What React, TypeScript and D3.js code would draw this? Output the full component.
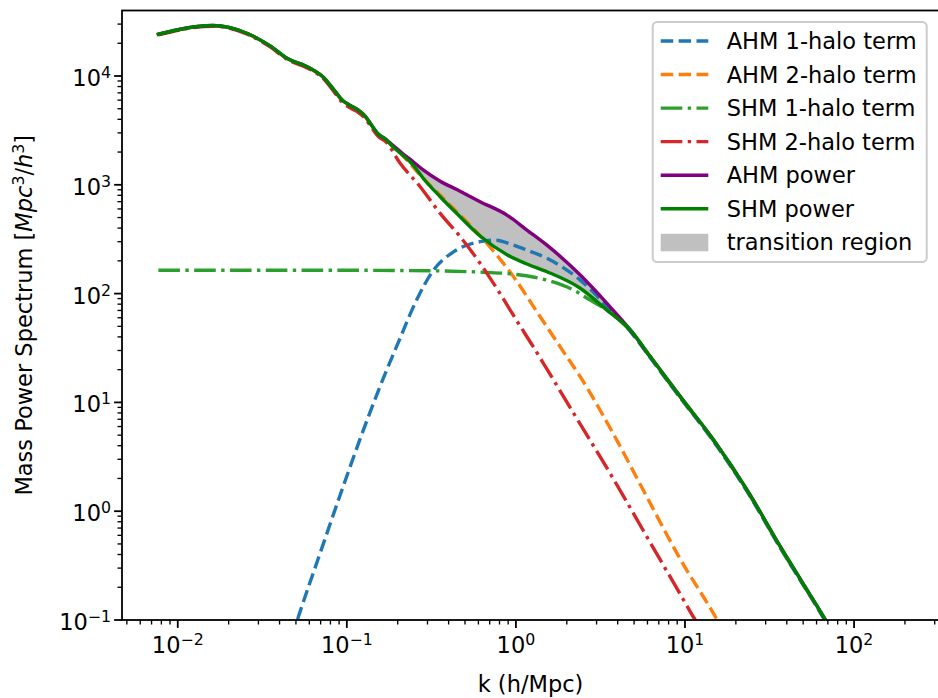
import { useEffect, useRef } from 'react';
import * as d3 from 'd3';

// total power spectra (shared k grid, needed for the shaded transition band)
const kPower = [0.00768, 0.0161, 0.0258, 0.0352, 0.0451, 0.0567, 0.0649, 0.0721, 0.0841, 0.0938, 0.1046, 0.1167, 0.1283, 0.1411, 0.1532, 0.1708, 0.1879, 0.2153, 0.2467, 0.2828, 0.3565, 0.4475, 0.6141, 0.8845, 1.162, 1.526, 2.402, 3.455, 4.746, 6.232, 9.38, 14.77, 23.28, 36.74, 67.83, 95];
const ahmPower = [24200, 29100, 24600, 18900, 14300, 12400, 11100, 9850, 7430, 6020, 5360, 4870, 4290, 3470, 2930, 2610, 2300, 1920, 1630, 1370, 1080, 904, 700, 527, 384, 279, 148, 81.3, 46.4, 26.4, 11.3, 4.52, 1.57, 0.469, 0.1, 0.041];
const shmPower = [24200, 29100, 24600, 18900, 14300, 12400, 11100, 9850, 7430, 6020, 5360, 4870, 4290, 3470, 2930, 2610, 2220, 1860, 1520, 1150, 777, 544, 338, 228, 187, 159, 112, 70.5, 46.4, 26.4, 11.3, 4.52, 1.57, 0.469, 0.1, 0.041];

// AHM 1-halo term
const kAhm1 = [0.0475, 0.0517, 0.0695, 0.0912, 0.1197, 0.1574, 0.2067, 0.2535, 0.3253, 0.4274, 0.6147, 0.754, 0.968, 1.162, 1.526, 2.402, 3.78, 4.746, 6.232, 9.38, 14.77, 23.28, 36.74, 67.83, 95];
const ahm1Halo = [0.0709, 0.107, 0.411, 1.40, 4.59, 14.1, 39.0, 81.8, 164, 242, 300, 310, 279, 251, 211, 133, 65.8, 45.0, 25.7, 11.0, 4.38, 1.52, 0.456, 0.097, 0.039];

// AHM 2-halo term
const kAhm2 = [0.00768, 0.0161, 0.0258, 0.0352, 0.0451, 0.0567, 0.0649, 0.0721, 0.0841, 0.0938, 0.1046, 0.1167, 0.1283, 0.1411, 0.1532, 0.1708, 0.1879, 0.2153, 0.2715, 0.4085, 0.6737, 0.9679, 1.392, 2.004, 2.402, 3.78, 5.958, 9.38, 15.53, 19.85];
const ahm2Halo = [24100, 29000, 24500, 18800, 14200, 12300, 11000, 9750, 7350, 5950, 5290, 4800, 4220, 3400, 2870, 2560, 2250, 1840, 1230, 651, 290, 143, 61.2, 26.2, 17.2, 5.10, 1.345, 0.362, 0.0995, 0.0484];

// SHM 1-halo term
const kShm1 = [0.00768, 0.02, 0.05, 0.1, 0.2, 0.33, 0.643, 0.968, 1.526, 2.192, 2.752, 3.455, 4.746, 6.232, 9.38, 14.77, 23.28, 36.74, 67.83, 95];
const shm1Halo = [164, 164, 164, 164, 163, 162, 157, 151, 133, 108, 87.1, 70.5, 45.5, 26.0, 11.1, 4.45, 1.54, 0.46, 0.098, 0.04];

// SHM 2-halo term
const kShm2 = [0.00768, 0.0161, 0.0258, 0.0352, 0.0451, 0.0567, 0.0649, 0.0721, 0.0841, 0.0938, 0.1046, 0.1167, 0.1283, 0.1411, 0.1532, 0.1708, 0.2067, 0.2715, 0.3565, 0.4683, 0.6141, 0.806, 1.014, 1.271, 1.526, 2.402, 3.78, 5.958, 9.38, 11.24, 14.64];
const shm2Halo = [23900, 28700, 24200, 18500, 14000, 12100, 10850, 9550, 7150, 5750, 5100, 4630, 4080, 3300, 2790, 2470, 1575, 960, 546, 333, 190, 100, 56, 32.2, 20.2, 6.31, 1.97, 0.58, 0.1725, 0.106, 0.0574];

const xTicks = [1e-2, 1e-1, 1, 10, 100];
const xTickExp = ['\u22122', '\u22121', '0', '1', '2'];
const yTicks = [1e-1, 1, 10, 100, 1e3, 1e4];
const yTickExp = ['\u22121', '0', '1', '2', '3', '4'];

const FONT = 'DejaVu Sans';
const FS = 22.5;

export default function App() {
  const svgRef = useRef<SVGSVGElement>(null);

  useEffect(() => {
    if (!svgRef.current) return;
    const svg = d3.select(svgRef.current);
    svg.selectAll('*').remove();

    const left = 122, right = 939, top = 10.5, bottom = 620;

    const x = d3.scaleLog().domain([0.00468, 318]).range([left, right]);
    const y = d3.scaleLog().domain([0.1, 40000]).range([bottom, top]);

    svg.append('rect').attr('width', 938).attr('height', 698).attr('fill', '#fff');

    svg.append('defs').append('clipPath').attr('id', 'plotClip')
      .append('rect').attr('x', left).attr('y', top)
      .attr('width', right - left).attr('height', bottom - top);

    const plot = svg.append('g').attr('clip-path', 'url(#plotClip)');

    const zip = (ks: number[], ps: number[]) => ks.map((k, i) => [k, ps[i]] as [number, number]);

    // shaded band between the two halo models
    const band = kPower.map((k, i) => ({ k, a: ahmPower[i], s: shmPower[i] }));
    const area = d3.area<{ k: number; a: number; s: number }>()
      .x(d => x(d.k))
      .y0(d => y(d.s))
      .y1(d => y(d.a))
      .curve(d3.curveMonotoneX);
    plot.append('path').attr('d', area(band)).attr('fill', '#c0c0c0');

    const line = d3.line<[number, number]>()
      .x(d => x(d[0]))
      .y(d => y(d[1]))
      .curve(d3.curveMonotoneX);

    const dashed = '12.5 5.4';
    const dashdot = '21.6 5.4 3.4 5.4';

    const series = [
      { label: 'AHM 1-halo term', data: zip(kAhm1, ahm1Halo), color: '#1f77b4', dash: dashed },
      { label: 'AHM 2-halo term', data: zip(kAhm2, ahm2Halo), color: '#ff7f0e', dash: dashed },
      { label: 'SHM 1-halo term', data: zip(kShm1, shm1Halo), color: '#2ca02c', dash: dashdot },
      { label: 'SHM 2-halo term', data: zip(kShm2, shm2Halo), color: '#d62728', dash: dashdot },
      { label: 'AHM power', data: zip(kPower, ahmPower), color: '#800080', dash: null },
      { label: 'SHM power', data: zip(kPower, shmPower), color: '#008000', dash: null },
    ];

    series.forEach(s => {
      plot.append('path')
        .attr('d', line(s.data))
        .attr('fill', 'none')
        .attr('stroke', s.color)
        .attr('stroke-width', 3.4)
        .attr('stroke-linejoin', 'round')
        .attr('stroke-linecap', s.dash ? 'butt' : 'square')
        .attr('stroke-dasharray', s.dash);
    });

    // ticks
    const axes = svg.append('g');
    const minorX: number[] = [];
    const minorY: number[] = [];
    for (let e = -3; e <= 4; e++) {
      for (let m = 2; m <= 9; m++) {
        const v = m * Math.pow(10, e);
        if (v > x.domain()[0] && v < x.domain()[1]) minorX.push(v);
        if (v > y.domain()[0] && v < y.domain()[1]) minorY.push(v);
      }
    }
    minorX.forEach(v => {
      axes.append('line').attr('x1', x(v)).attr('x2', x(v)).attr('y1', bottom).attr('y2', bottom + 4.5)
        .attr('stroke', '#000').attr('stroke-width', 1.35);
    });
    minorY.forEach(v => {
      axes.append('line').attr('y1', y(v)).attr('y2', y(v)).attr('x1', left).attr('x2', left - 4.5)
        .attr('stroke', '#000').attr('stroke-width', 1.35);
    });

    xTicks.forEach((v, i) => {
      axes.append('line').attr('x1', x(v)).attr('x2', x(v)).attr('y1', bottom).attr('y2', bottom + 7.9)
        .attr('stroke', '#000').attr('stroke-width', 1.8);
      const t = axes.append('text')
        .attr('x', x(v)).attr('y', 653)
        .attr('text-anchor', 'middle')
        .attr('font-family', FONT).attr('font-size', FS);
      t.append('tspan').text('10');
      t.append('tspan').attr('dy', -8).attr('font-size', 15.75).text(xTickExp[i]);
    });

    yTicks.forEach((v, i) => {
      axes.append('line').attr('y1', y(v)).attr('y2', y(v)).attr('x1', left).attr('x2', left - 7.9)
        .attr('stroke', '#000').attr('stroke-width', 1.8);
      const t = axes.append('text')
        .attr('x', 111).attr('y', y(v) + 10)
        .attr('text-anchor', 'end')
        .attr('font-family', FONT).attr('font-size', FS);
      t.append('tspan').text('10');
      t.append('tspan').attr('dy', -8).attr('font-size', 15.75).text(yTickExp[i]);
    });

    // spines
    axes.append('rect')
      .attr('x', left).attr('y', top)
      .attr('width', right - left).attr('height', bottom - top)
      .attr('fill', 'none').attr('stroke', '#000').attr('stroke-width', 1.8);

    // axis labels
    svg.append('text')
      .attr('x', (left + right) / 2).attr('y', 692)
      .attr('text-anchor', 'middle')
      .attr('font-family', FONT).attr('font-size', FS)
      .text('k (h/Mpc)');

    const yl = svg.append('text')
      .attr('transform', `translate(32,${(top + bottom) / 2}) rotate(-90)`)
      .attr('text-anchor', 'middle')
      .attr('font-family', FONT).attr('font-size', FS);
    yl.append('tspan').text('Mass Power Spectrum [');
    yl.append('tspan').attr('font-style', 'italic').text('Mpc');
    yl.append('tspan').attr('dy', -8).attr('font-size', 15.75).text('3');
    yl.append('tspan').attr('dy', 8).text('/');
    yl.append('tspan').attr('font-style', 'italic').text('h');
    yl.append('tspan').attr('dy', -8).attr('font-size', 15.75).text('3');
    yl.append('tspan').attr('dy', 8).text(']');

    // legend
    const lg = svg.append('g');
    lg.append('rect')
      .attr('x', 652.7).attr('y', 22)
      .attr('width', 274).attr('height', 240)
      .attr('rx', 4.5)
      .attr('fill', '#fff').attr('fill-opacity', 0.8)
      .attr('stroke', '#cccccc').attr('stroke-width', 2);

    const rowY = (i: number) => 41 + i * 33.55;
    series.forEach((s, i) => {
      lg.append('line')
        .attr('x1', 660.7).attr('x2', 708.3)
        .attr('y1', rowY(i)).attr('y2', rowY(i))
        .attr('stroke', s.color).attr('stroke-width', 3.4)
        .attr('stroke-dasharray', s.dash);
      lg.append('text')
        .attr('x', 726.7).attr('y', rowY(i) + 8)
        .attr('font-family', FONT).attr('font-size', FS)
        .text(s.label);
    });
    lg.append('rect')
      .attr('x', 660.7).attr('y', rowY(6) - 8.5)
      .attr('width', 47.6).attr('height', 17.5)
      .attr('fill', '#c0c0c0');
    lg.append('text')
      .attr('x', 726.7).attr('y', rowY(6) + 8)
      .attr('font-family', FONT).attr('font-size', FS)
      .text('transition region');
  }, []);

  return (
    <svg
      ref={svgRef}
      width={938}
      height={698}
      style={{ position: 'absolute', left: 0, top: 0 }}
    />
  );
}
